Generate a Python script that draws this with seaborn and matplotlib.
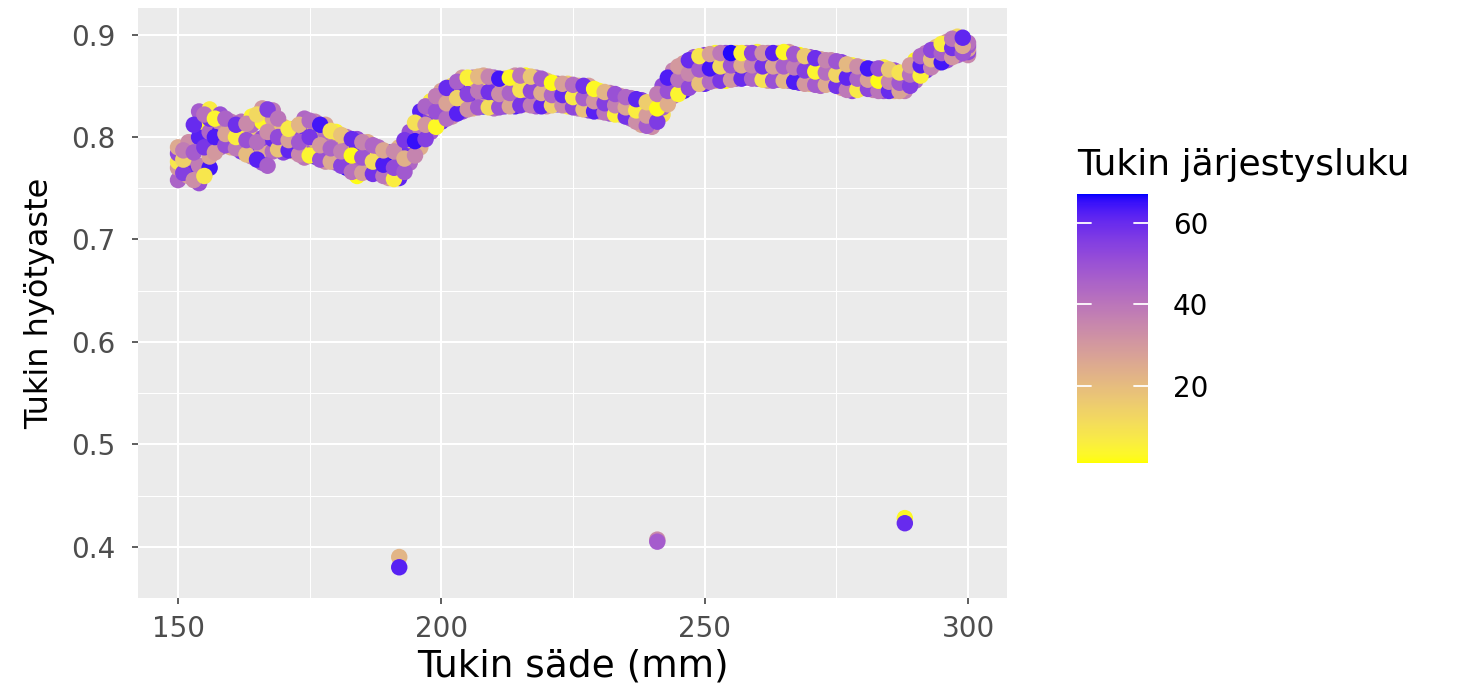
import numpy as np
import pandas as pd
import matplotlib
matplotlib.use("Agg")
import matplotlib.pyplot as plt
from matplotlib.colors import ListedColormap, Normalize
from matplotlib.cm import ScalarMappable
import seaborn as sns

# ---------------- data ----------------
radius_even = list(range(150, 301, 2))
efficiency_even = [
    [0.758, 0.770, 0.776, 0.784, 0.790], [0.762, 0.768, 0.780, 0.788, 0.795],
    [0.755, 0.772, 0.800, 0.815, 0.825], [0.770, 0.781, 0.805, 0.818, 0.827],
    [0.790, 0.798, 0.806, 0.814, 0.822], [0.790, 0.797, 0.803, 0.810, 0.815],
    [0.786, 0.794, 0.801, 0.808, 0.815], [0.781, 0.790, 0.800, 0.812, 0.820],
    [0.775, 0.788, 0.799, 0.815, 0.828], [0.786, 0.798, 0.808, 0.818, 0.826],
    [0.785, 0.792, 0.798, 0.804, 0.810], [0.786, 0.792, 0.797, 0.803, 0.808],
    [0.780, 0.790, 0.798, 0.810, 0.818], [0.781, 0.789, 0.797, 0.807, 0.815],
    [0.776, 0.785, 0.795, 0.804, 0.812], [0.775, 0.784, 0.790, 0.798, 0.805],
    [0.770, 0.779, 0.787, 0.794, 0.800], [0.762, 0.775, 0.784, 0.791, 0.798],
    [0.766, 0.774, 0.782, 0.789, 0.795], [0.765, 0.771, 0.778, 0.784, 0.790],
    [0.760, 0.767, 0.773, 0.779, 0.785], [0.760, 0.768, 0.775, 0.782, 0.790],
    [0.775, 0.783, 0.790, 0.797, 0.805], [0.790, 0.799, 0.808, 0.817, 0.825],
    [0.805, 0.812, 0.820, 0.828, 0.835], [0.815, 0.823, 0.830, 0.838, 0.845],
    [0.820, 0.828, 0.836, 0.843, 0.850], [0.825, 0.833, 0.841, 0.850, 0.858],
    [0.828, 0.836, 0.843, 0.851, 0.858], [0.830, 0.838, 0.845, 0.853, 0.860],
    [0.828, 0.836, 0.843, 0.850, 0.858], [0.830, 0.837, 0.844, 0.850, 0.857],
    [0.830, 0.838, 0.845, 0.853, 0.860], [0.832, 0.839, 0.846, 0.853, 0.860],
    [0.830, 0.837, 0.844, 0.851, 0.858], [0.830, 0.836, 0.842, 0.849, 0.855],
    [0.832, 0.837, 0.842, 0.847, 0.852], [0.830, 0.836, 0.841, 0.847, 0.852],
    [0.828, 0.834, 0.839, 0.845, 0.850], [0.826, 0.832, 0.838, 0.844, 0.850],
    [0.825, 0.830, 0.835, 0.840, 0.845], [0.823, 0.828, 0.833, 0.838, 0.843],
    [0.822, 0.826, 0.831, 0.836, 0.840], [0.818, 0.823, 0.828, 0.833, 0.838],
    [0.812, 0.819, 0.825, 0.831, 0.836], [0.810, 0.816, 0.821, 0.827, 0.832],
    [0.822, 0.829, 0.836, 0.843, 0.850], [0.840, 0.846, 0.852, 0.859, 0.865],
    [0.845, 0.852, 0.858, 0.865, 0.872], [0.852, 0.859, 0.865, 0.871, 0.878],
    [0.852, 0.859, 0.866, 0.873, 0.880], [0.855, 0.862, 0.868, 0.875, 0.882],
    [0.855, 0.862, 0.868, 0.875, 0.882], [0.857, 0.863, 0.869, 0.876, 0.882],
    [0.858, 0.864, 0.870, 0.876, 0.882], [0.857, 0.863, 0.870, 0.876, 0.883],
    [0.855, 0.862, 0.868, 0.875, 0.882], [0.856, 0.862, 0.869, 0.875, 0.882],
    [0.855, 0.862, 0.869, 0.876, 0.883], [0.853, 0.860, 0.866, 0.873, 0.880],
    [0.852, 0.858, 0.865, 0.871, 0.878], [0.850, 0.857, 0.863, 0.870, 0.876],
    [0.852, 0.858, 0.863, 0.869, 0.875], [0.848, 0.854, 0.860, 0.867, 0.873],
    [0.845, 0.851, 0.858, 0.864, 0.870], [0.848, 0.853, 0.858, 0.863, 0.868],
    [0.846, 0.851, 0.856, 0.861, 0.866], [0.845, 0.851, 0.856, 0.862, 0.868],
    [0.845, 0.850, 0.855, 0.860, 0.865], [0.845, 0.849, 0.853, 0.858, 0.862],
    [0.855, 0.860, 0.865, 0.870, 0.875], [0.865, 0.869, 0.873, 0.878, 0.882],
    [0.872, 0.876, 0.880, 0.884, 0.888], [0.875, 0.880, 0.884, 0.889, 0.893],
    [0.880, 0.885, 0.889, 0.894, 0.898], [0.880, 0.883, 0.886, 0.889, 0.892],
]
order_even = [
    [45, 30, 8, 52, 25], [28, 60, 40, 5, 33], [50, 38, 62, 3, 47], [64, 27, 44, 58, 6],
    [42, 12, 61, 35, 50], [22, 48, 2, 55, 38], [57, 30, 46, 9, 41], [36, 63, 18, 44, 4],
    [49, 25, 52, 3, 31], [43, 60, 7, 29, 39], [54, 2, 37, 47, 20], [26, 45, 62, 11, 50],
    [40, 5, 33, 58, 44], [61, 47, 23, 4, 36], [32, 53, 8, 42, 27], [48, 19, 56, 38, 3],
    [65, 31, 46, 6, 40], [2, 44, 28, 60, 51], [37, 58, 15, 45, 24], [52, 26, 63, 9, 43],
    [30, 4, 49, 39, 66], [61, 5, 35, 47, 22], [44, 29, 58, 13, 50], [24, 53, 40, 3, 62],
    [47, 17, 56, 33, 6], [59, 38, 2, 45, 27], [34, 61, 49, 20, 8], [52, 4, 41, 63, 30],
    [23, 46, 58, 7, 37], [67, 31, 50, 12, 26], [42, 3, 60, 35, 48], [55, 28, 9, 44, 20],
    [62, 39, 47, 5, 33], [18, 57, 36, 51, 2], [46, 8, 64, 25, 41], [30, 53, 4, 40, 19],
    [59, 1, 37, 27, 45], [6, 48, 24, 56, 14], [39, 62, 3, 33, 22], [51, 20, 44, 8, 29],
    [35, 57, 12, 46, 4], [48, 26, 60, 17, 38], [21, 43, 5, 53, 31], [45, 64, 28, 10, 40],
    [27, 50, 37, 3, 55], [33, 16, 59, 42, 24], [9, 46, 30, 2, 52], [41, 25, 55, 6, 36],
    [63, 44, 18, 50, 29], [38, 3, 57, 26, 47], [60, 32, 45, 11, 54], [24, 49, 66, 38, 4],
    [2, 62, 40, 21, 51], [46, 29, 65, 55, 13], [35, 8, 48, 27, 42], [53, 40, 19, 61, 5],
    [28, 57, 44, 3, 36], [47, 15, 33, 52, 23], [39, 64, 7, 45, 30], [58, 24, 50, 36, 1],
    [20, 43, 61, 12, 48], [44, 5, 31, 54, 26], [63, 38, 46, 2, 34], [29, 50, 16, 41, 55],
    [52, 6, 37, 27, 4], [41, 60, 22, 47, 10], [35, 18, 53, 3, 45], [48, 30, 62, 39, 6],
    [24, 55, 42, 14, 50], [37, 22, 5, 58, 30], [44, 12, 51, 26, 3], [57, 33, 47, 2, 40],
    [28, 9, 64, 43, 19], [50, 36, 4, 55, 31], [45, 63, 23, 38, 12], [35, 52, 27, 48, 41],
]

radius_odd = list(range(151, 300, 2))
efficiency_odd = [
    [0.765, 0.778, 0.787], [0.758, 0.785, 0.812], [0.762, 0.790, 0.822], [0.785, 0.800, 0.818],
    [0.792, 0.803, 0.818], [0.789, 0.800, 0.812], [0.783, 0.797, 0.813], [0.778, 0.795, 0.822],
    [0.772, 0.805, 0.827], [0.788, 0.800, 0.818], [0.787, 0.797, 0.808], [0.783, 0.795, 0.812],
    [0.782, 0.800, 0.816], [0.778, 0.792, 0.812], [0.776, 0.789, 0.806], [0.772, 0.786, 0.802],
    [0.766, 0.782, 0.798], [0.765, 0.780, 0.795], [0.764, 0.776, 0.792], [0.762, 0.773, 0.787],
    [0.759, 0.770, 0.786], [0.766, 0.779, 0.797], [0.782, 0.796, 0.814], [0.798, 0.812, 0.830],
    [0.810, 0.825, 0.840], [0.818, 0.833, 0.848], [0.823, 0.838, 0.854], [0.827, 0.842, 0.858],
    [0.829, 0.845, 0.859], [0.829, 0.844, 0.859], [0.829, 0.842, 0.857], [0.830, 0.843, 0.858],
    [0.831, 0.846, 0.860], [0.831, 0.845, 0.859], [0.830, 0.843, 0.857], [0.831, 0.841, 0.853],
    [0.831, 0.841, 0.852], [0.829, 0.839, 0.851], [0.827, 0.838, 0.850], [0.825, 0.835, 0.847],
    [0.824, 0.833, 0.844], [0.822, 0.831, 0.842], [0.820, 0.829, 0.839], [0.815, 0.826, 0.837],
    [0.811, 0.821, 0.834], [0.815, 0.828, 0.842], [0.832, 0.845, 0.858], [0.842, 0.856, 0.869],
    [0.848, 0.862, 0.875], [0.852, 0.866, 0.879], [0.854, 0.867, 0.881], [0.855, 0.869, 0.882],
    [0.856, 0.870, 0.882], [0.857, 0.870, 0.882], [0.857, 0.870, 0.882], [0.856, 0.869, 0.882],
    [0.855, 0.869, 0.882], [0.855, 0.869, 0.883], [0.854, 0.868, 0.881], [0.852, 0.865, 0.879],
    [0.851, 0.864, 0.877], [0.851, 0.863, 0.875], [0.850, 0.861, 0.874], [0.846, 0.858, 0.871],
    [0.846, 0.857, 0.869], [0.847, 0.856, 0.867], [0.845, 0.855, 0.867], [0.845, 0.854, 0.866],
    [0.845, 0.853, 0.863], [0.850, 0.861, 0.870], [0.860, 0.870, 0.879], [0.868, 0.876, 0.885],
    [0.873, 0.882, 0.891], [0.878, 0.887, 0.896], [0.882, 0.889, 0.897],
]
order_odd = [
    [55, 14, 38], [33, 47, 60], [8, 57, 41], [30, 63, 4], [51, 27, 45], [39, 6, 59],
    [20, 50, 34], [62, 42, 12], [46, 33, 55], [18, 52, 40], [61, 28, 7], [35, 48, 22],
    [4, 57, 43], [50, 30, 64], [25, 45, 9], [54, 37, 18], [41, 2, 60], [29, 49, 36],
    [58, 11, 44], [40, 63, 26], [6, 52, 34], [48, 23, 57], [36, 65, 10], [55, 31, 45],
    [3, 50, 38], [43, 27, 60], [62, 14, 46], [32, 54, 5], [48, 39, 21], [11, 58, 36],
    [50, 33, 64], [26, 45, 3], [57, 9, 40], [38, 52, 17], [61, 24, 47], [14, 44, 2],
    [35, 60, 28], [53, 7, 42], [19, 46, 58], [62, 31, 3], [40, 55, 22], [5, 37, 50],
    [58, 26, 44], [33, 6, 61], [47, 29, 15], [56, 2, 38], [24, 50, 63], [4, 41, 30],
    [52, 35, 60], [19, 47, 8], [43, 64, 28], [57, 12, 39], [31, 49, 66], [60, 24, 5],
    [45, 36, 53], [9, 58, 32], [50, 27, 62], [22, 46, 3], [63, 38, 48], [30, 55, 16],
    [47, 4, 59], [25, 42, 36], [58, 13, 49], [39, 61, 21], [7, 45, 33], [53, 28, 64],
    [40, 2, 51], [60, 35, 17], [27, 48, 9], [55, 41, 30], [5, 62, 44], [37, 20, 53],
    [64, 46, 6], [31, 58, 40], [49, 25, 61],
]

outlier_radius = [192, 192, 241, 241, 288, 288]
outlier_efficiency = [0.390, 0.380, 0.407, 0.405, 0.428, 0.423]
outlier_order = [22, 62, 34, 47, 3, 60]

x_ticks = [150, 200, 250, 300]
y_ticks = [0.4, 0.5, 0.6, 0.7, 0.8, 0.9]
cbar_ticks = [20, 40, 60]
order_range = (1, 67)

# ---------------- assemble table (drawing order = data order) ----------------
records = []
for r, er, orow in zip(radius_even, efficiency_even, order_even):
    records += [(r, e, o) for e, o in zip(er, orow)]
for r, er, orow in zip(radius_odd, efficiency_odd, order_odd):
    records += [(r, e, o) for e, o in zip(er, orow)]
records += list(zip(outlier_radius, outlier_efficiency, outlier_order))
df = pd.DataFrame(records, columns=["radius", "efficiency", "order"])

# ---------------- ggplot-like yellow->blue gradient in Lab ----------------
def srgb_to_lab(rgb):
    c = np.asarray(rgb, float)
    lin = np.where(c <= 0.04045, c / 12.92, ((c + 0.055) / 1.055) ** 2.4)
    M = np.array([[0.4124564, 0.3575761, 0.1804375],
                  [0.2126729, 0.7151522, 0.0721750],
                  [0.0193339, 0.1191920, 0.9503041]])
    xyz = M @ lin / np.array([0.95047, 1.0, 1.08883])
    d = 6 / 29
    f = np.where(xyz > d ** 3, np.cbrt(xyz), xyz / (3 * d * d) + 4 / 29)
    return np.array([116 * f[1] - 16, 500 * (f[0] - f[1]), 200 * (f[1] - f[2])])

def lab_to_srgb(lab):
    L, a, b = lab
    fy = (L + 16) / 116
    fx = fy + a / 500
    fz = fy - b / 200
    d = 6 / 29
    f = np.array([fx, fy, fz])
    t = np.where(f > d, f ** 3, 3 * d * d * (f - 4 / 29))
    xyz = t * np.array([0.95047, 1.0, 1.08883])
    Minv = np.array([[3.2404542, -1.5371385, -0.4985314],
                     [-0.9692660, 1.8760108, 0.0415560],
                     [0.0556434, -0.2040259, 1.0572252]])
    lin = np.clip(Minv @ xyz, 0, 1)
    c = np.where(lin <= 0.0031308, 12.92 * lin, 1.055 * lin ** (1 / 2.4) - 0.055)
    return np.clip(c, 0, 1)

lab_lo = srgb_to_lab([1.0, 1.0, 0.0])
lab_hi = srgb_to_lab([0.0, 0.0, 1.0])
cols = [lab_to_srgb(lab_lo + (lab_hi - lab_lo) * t) for t in np.linspace(0, 1, 256)]
cmap = ListedColormap(cols)
norm = Normalize(*order_range)

# ---------------- plot ----------------
sns.set_theme(style="darkgrid")
plt.rcParams["font.family"] = ["DejaVu Sans"]

fig = plt.figure(figsize=(14.57, 6.84), dpi=100)
ax = fig.add_axes([138 / 1457, 1 - 598 / 684, (1007 - 138) / 1457, (598 - 8) / 684])
ax.set_facecolor("#EBEBEB")

sns.scatterplot(data=df, x="radius", y="efficiency", hue="order", palette=cmap,
                hue_norm=norm, s=140, linewidth=0, alpha=1, legend=False, ax=ax, zorder=3)

ax.set_xlim(142.4, 307.4)
ax.set_ylim(0.353, 0.926)
ax.set_xticks(x_ticks)
ax.set_yticks(y_ticks)
ax.set_xticks([175, 225, 275], minor=True)
ax.set_yticks([0.35, 0.45, 0.55, 0.65, 0.75, 0.85], minor=True)
ax.set_xticklabels([str(v) for v in x_ticks])
ax.set_yticklabels([f"{v:.1f}" for v in y_ticks])
ax.grid(which="major", color="white", linewidth=1.5)
ax.grid(which="minor", color="white", linewidth=0.75)
ax.set_axisbelow(True)
for sp in ax.spines.values():
    sp.set_visible(False)
ax.tick_params(axis="both", which="major", length=4, width=1.1, color="#333333",
               labelsize=20, labelcolor="#4D4D4D", bottom=True, left=True)
ax.tick_params(axis="x", which="major", pad=8)
ax.tick_params(axis="y", which="major", pad=12)
ax.tick_params(axis="both", which="minor", length=0)
ax.set_xlabel("Tukin säde (mm)", fontsize=27, color="black", labelpad=4)
ax.set_ylabel("Tukin hyötyaste", fontsize=23, color="black", labelpad=12)

# colour bar legend
cax = fig.add_axes([1077 / 1457, 1 - 463 / 684, 71 / 1457, 269 / 684])
sm = ScalarMappable(norm=norm, cmap=cmap)
cb = fig.colorbar(sm, cax=cax)
cb.outline.set_visible(False)
cb.set_ticks(cbar_ticks)
cax.tick_params(length=0, labelsize=20, labelcolor="black", pad=18)
for t in cbar_ticks:
    cax.plot([0, 0.2], [t, t], color="white", lw=1.3, transform=cax.get_yaxis_transform())
    cax.plot([0.8, 1.0], [t, t], color="white", lw=1.3, transform=cax.get_yaxis_transform())
fig.text(1077 / 1457, 1 - 165 / 684, "Tukin järjestysluku", fontsize=26,
         color="black", ha="left", va="center")

fig.savefig("out.png", dpi=100)
